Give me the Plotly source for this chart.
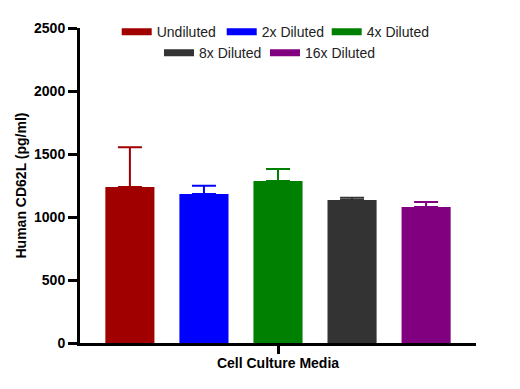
import plotly.graph_objects as go

category = ["Cell Culture Media"]
series_names = ["Undiluted", "2x Diluted", "4x Diluted", "8x Diluted", "16x Diluted"]
means = [1238, 1183, 1286, 1135, 1079]
errors = [315, 65, 95, 18, 40]
colors = ["#A00000", "#0000FF", "#008000", "#333333", "#800080"]
y_ticks = [0, 500, 1000, 1500, 2000, 2500]

fig = go.Figure()
for name, m, e, c in zip(series_names, means, errors, colors):
    fig.add_trace(go.Bar(
        x=category, y=[m], name=name, marker=dict(color=c, line=dict(width=0)),
        error_y=dict(type="data", array=[e], arrayminus=[0], symmetric=False,
                     color=c, thickness=2, width=12),
        showlegend=False,
    ))

# legend entries (wide flat swatches)
for i, (name, c) in enumerate(zip(series_names, colors)):
    fig.add_trace(go.Scatter(
        x=[None], y=[None], mode="lines", name=name,
        line=dict(color=c, width=7),
        legend="legend" if i < 3 else "legend2",
        legendwidth=90 if i in (2, 4) else None,
    ))

font_main = dict(family="Arial, Liberation Sans", size=14, color="black", weight="bold")
legend_font = dict(family="Arial, Liberation Sans", size=14, color="#222222")

fig.update_layout(
    width=512, height=381,
    margin=dict(l=72, r=44, t=20, b=46, autoexpand=False),
    plot_bgcolor="white", paper_bgcolor="white",
    barmode="group", bargap=0.065, bargroupgap=0.337,
    font=dict(family="Arial, Liberation Sans", size=14, color="black"),
    legend=dict(orientation="h", x=0.0927, xanchor="left", y=1.038, yanchor="top",
                entrywidth=60, itemwidth=30, bgcolor="rgba(0,0,0,0)", font=legend_font),
    legend2=dict(orientation="h", x=0.1995, xanchor="left", y=0.971, yanchor="top",
                 entrywidth=61, itemwidth=30, bgcolor="rgba(0,0,0,0)", font=legend_font),
    xaxis=dict(type="category", range=[-0.5, 0.5], showline=True, linewidth=3, linecolor="black",
               ticks="outside", ticklen=8, tickwidth=3, tickcolor="black", automargin=False,
               tickfont=font_main, showgrid=False, zeroline=False, ticklabelstandoff=-3),
    yaxis=dict(range=[0, 2500], tickvals=y_ticks, showline=True, linewidth=3, linecolor="black",
               ticks="outside", ticklen=9, tickwidth=3, tickcolor="black", automargin=False,
               tickfont=font_main, showgrid=False, zeroline=False,
               title=dict(text="Human CD62L (pg/ml)", font=font_main, standoff=5)),
)

fig.write_html("out.html")
